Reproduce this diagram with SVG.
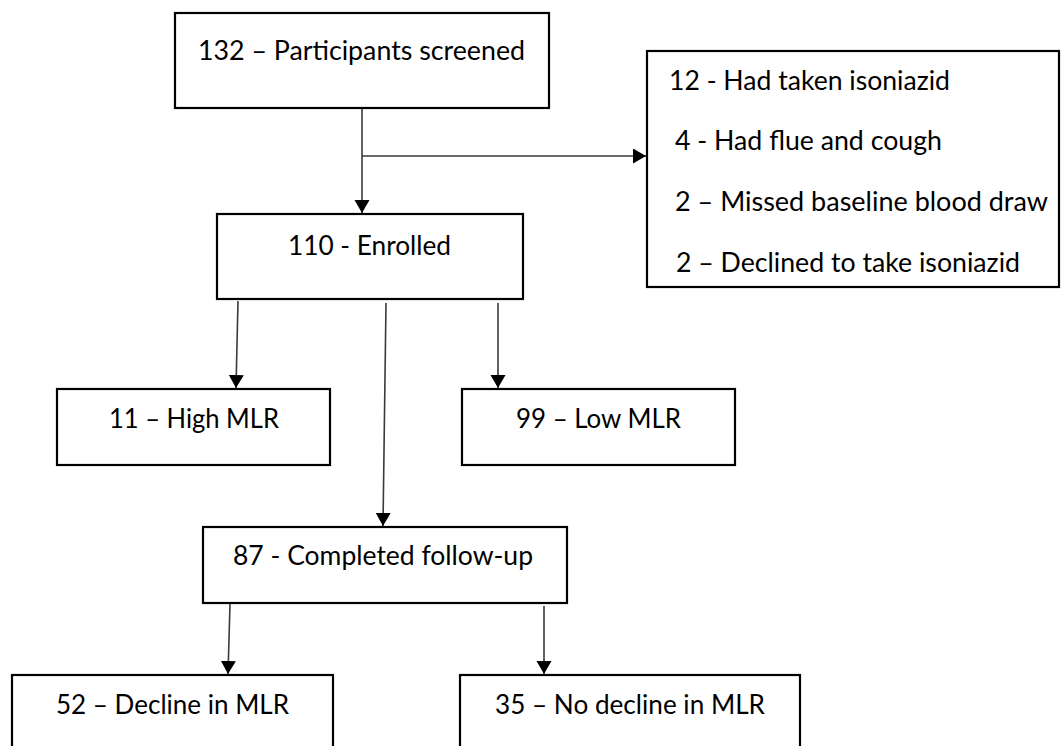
<svg xmlns="http://www.w3.org/2000/svg" width="1061" height="746" viewBox="0 0 1061 746">
<style>
.box{fill:#fff;stroke:#000;stroke-width:2.2}
.lbl{font-family:Lato,"Liberation Sans",sans-serif;font-size:27px;fill:#000}
.con{stroke:#3a3a3a;stroke-width:1.6;fill:none}
</style>
<defs>
<marker id="arr" markerUnits="userSpaceOnUse" markerWidth="14" markerHeight="16" refX="13" refY="7.5" orient="auto">
<path d="M0,0 L13,7.5 L0,15 z" fill="#000"/>
</marker>
</defs>
<rect width="1061" height="746" fill="#fff"/>
<g id="connectors">
<line class="con" x1="362" y1="109" x2="362" y2="213" marker-end="url(#arr)"/>
<line class="con" x1="362" y1="156" x2="646" y2="156" marker-end="url(#arr)"/>
<line class="con" x1="238" y1="301" x2="236" y2="388" marker-end="url(#arr)"/>
<line class="con" x1="386" y1="303" x2="383" y2="526" marker-end="url(#arr)"/>
<line class="con" x1="498" y1="303" x2="498" y2="388" marker-end="url(#arr)"/>
<line class="con" x1="230" y1="604" x2="228" y2="674" marker-end="url(#arr)"/>
<line class="con" x1="544" y1="606" x2="544" y2="674" marker-end="url(#arr)"/>
</g>
<g id="screened">
<rect class="box" x="175" y="13" width="374" height="95"/>
<text class="lbl" x="198" y="60" textLength="327" lengthAdjust="spacingAndGlyphs">132 – Participants screened</text>
</g>
<g id="excluded">
<rect class="box" x="647" y="51" width="412" height="236"/>
<text class="lbl" x="669" y="90" textLength="281" lengthAdjust="spacingAndGlyphs">12 - Had taken isoniazid</text>
<text class="lbl" x="675" y="150" textLength="267" lengthAdjust="spacingAndGlyphs">4 - Had flue and cough</text>
<text class="lbl" x="675" y="211" textLength="373" lengthAdjust="spacingAndGlyphs">2 – Missed baseline blood draw</text>
<text class="lbl" x="676" y="272" textLength="344" lengthAdjust="spacingAndGlyphs">2 – Declined to take isoniazid</text>
</g>
<g id="enrolled">
<rect class="box" x="217" y="214" width="306" height="85"/>
<text class="lbl" x="288" y="255" textLength="163" lengthAdjust="spacingAndGlyphs">110 - Enrolled</text>
</g>
<g id="high-mlr">
<rect class="box" x="57" y="389" width="273" height="76"/>
<text class="lbl" x="109" y="428" textLength="170" lengthAdjust="spacingAndGlyphs">11 – High MLR</text>
</g>
<g id="low-mlr">
<rect class="box" x="462" y="389" width="273" height="76"/>
<text class="lbl" x="516" y="428" textLength="165" lengthAdjust="spacingAndGlyphs">99 – Low MLR</text>
</g>
<g id="completed">
<rect class="box" x="203" y="527" width="364" height="76"/>
<text class="lbl" x="233" y="565" textLength="300" lengthAdjust="spacingAndGlyphs">87 - Completed follow-up</text>
</g>
<g id="decline">
<rect class="box" x="12" y="675" width="321" height="90"/>
<text class="lbl" x="56" y="714" textLength="233" lengthAdjust="spacingAndGlyphs">52 – Decline in MLR</text>
</g>
<g id="no-decline">
<rect class="box" x="460" y="675" width="340" height="90"/>
<text class="lbl" x="495" y="714" textLength="270" lengthAdjust="spacingAndGlyphs">35 – No decline in MLR</text>
</g>
</svg>
